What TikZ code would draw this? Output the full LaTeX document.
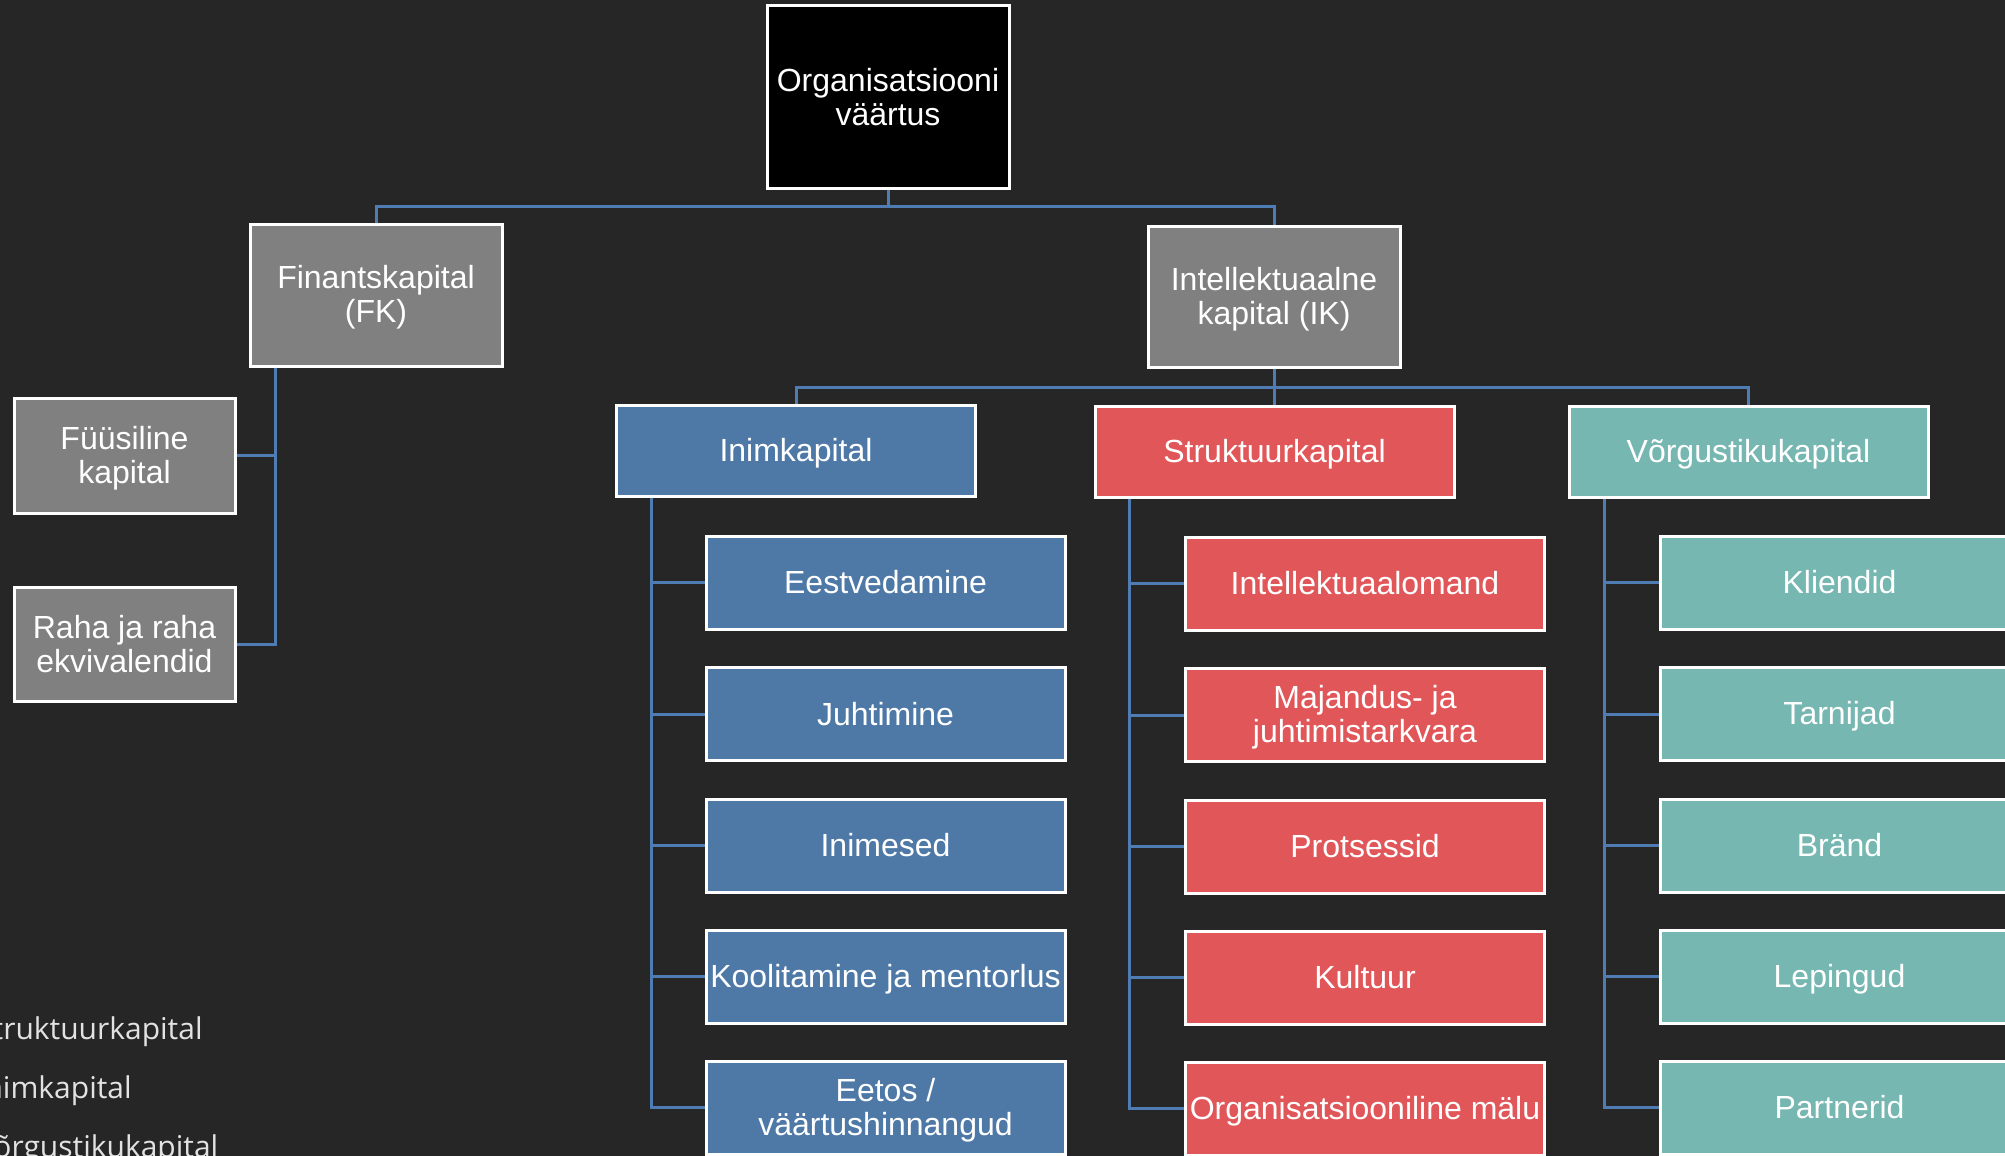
\documentclass[tikz,border=0pt]{standalone}
\usepackage{fontspec}
\setmainfont{Liberation Sans}
\newfontfamily\legendfont{Open Sans}
\definecolor{bgc}{HTML}{262626}
\definecolor{grayc}{HTML}{808080}
\definecolor{bluec}{HTML}{4E79A7}
\definecolor{redc}{HTML}{E15759}
\definecolor{tealc}{HTML}{76B7B2}
\definecolor{linec}{HTML}{4F7DB3}
\definecolor{legc}{HTML}{E2E2E2}
\newcommand\bxfont{\fontsize{32}{34}\selectfont\lineskiplimit=-100pt}
\newcommand\bs{\rule[-6pt]{0pt}{34pt}}
\tikzset{
  box/.style={draw=white, line width=3pt, text=white, inner sep=0pt, align=center, font=\bxfont},
  rootbox/.style={box, fill=black, minimum width=242, minimum height=182},
  graybox/.style={box, fill=grayc},
  lvl2/.style={box, minimum width=359, minimum height=91},
  child/.style={box, minimum width=359, minimum height=93},
  conn/.style={draw=linec, line width=3pt},
  legend/.style={text=legc, font=\legendfont\fontsize{30}{34}\selectfont, anchor=base west, inner sep=0pt}
}
\begin{document}
\begin{tikzpicture}[x=1pt,y=-1pt]
\useasboundingbox (0,0) rectangle (2005,1156);
\fill[bgc] (0,0) rectangle (2005,1156);
\clip (0,0) rectangle (2005,1156);

% top levels
\node[rootbox] (root) at (888,97) {\bs Organisatsiooni\\\bs väärtus};
\node[graybox, minimum width=252, minimum height=142] (fk) at (376,295) {\bs Finantskapital\\\bs (FK)};
\node[graybox, minimum width=252, minimum height=141] (ik) at (1274,296.5) {\bs Intellektuaalne\\\bs kapital (IK)};
\node[graybox, minimum width=221, minimum height=115] (fys) at (124.5,455.5) {\bs Füüsiline\\\bs kapital};
\node[graybox, minimum width=221, minimum height=114] (raha) at (124.5,644) {\bs Raha ja raha\\\bs ekvivalendid};

\node[lvl2, fill=bluec] (inim) at (796,451) {\bs Inimkapital};
\node[lvl2, fill=redc] (strk) at (1274.5,452) {\bs Struktuurkapital};
\node[lvl2, fill=tealc] (vorg) at (1748.5,452) {\bs Võrgustikukapital};

% Inimkapital children
\node[child, fill=bluec] (i1) at (885.5,582.5) {\bs Eestvedamine};
\node[child, fill=bluec] (i2) at (885.5,714) {\bs Juhtimine};
\node[child, fill=bluec] (i3) at (885.5,845.5) {\bs Inimesed};
\node[child, fill=bluec] (i4) at (885.5,976.5) {\bs Koolitamine ja mentorlus};
\node[child, fill=bluec] (i5) at (885.5,1107.5) {\bs Eetos /\\\bs väärtushinnangud};

% Struktuurkapital children
\node[child, fill=redc] (s1) at (1365,583.5) {\bs Intellektuaalomand};
\node[child, fill=redc] (s2) at (1365,715) {\bs Majandus- ja\\\bs juhtimistarkvara};
\node[child, fill=redc] (s3) at (1365,846.5) {\bs Protsessid};
\node[child, fill=redc] (s4) at (1365,977.5) {\bs Kultuur};
\node[child, fill=redc] (s5) at (1365,1108.5) {\bs Organisatsiooniline mälu};

% Vorgustikukapital children
\node[child, fill=tealc] (v1) at (1839.5,582.5) {\bs Kliendid};
\node[child, fill=tealc] (v2) at (1839.5,714) {\bs Tarnijad};
\node[child, fill=tealc] (v3) at (1839.5,845.5) {\bs Bränd};
\node[child, fill=tealc] (v4) at (1839.5,976.5) {\bs Lepingud};
\node[child, fill=tealc] (v5) at (1839.5,1107.5) {\bs Partnerid};

% connectors
\draw[conn] (root.south) -- ++(0,17) -| (fk.north);
\draw[conn] (root.south) -- ++(0,17) -| (ik.north);
\draw[conn] (fk.south) ++(-101,0) |- (fys.east);
\draw[conn] (fk.south) ++(-101,0) |- (raha.east);
\draw[conn] (ik.south) -- ++(0,19) -| (inim.north);
\draw[conn] (ik.south) -- ++(0,19) -| (strk.north);
\draw[conn] (ik.south) -- ++(0,19) -| (vorg.north);
\foreach \c in {i1,i2,i3,i4,i5}{\draw[conn] (inim.south west) ++(36,0) |- (\c.west);}
\foreach \c in {s1,s2,s3,s4,s5}{\draw[conn] (strk.south west) ++(36,0) |- (\c.west);}
\foreach \c in {v1,v2,v3,v4,v5}{\draw[conn] (vorg.south west) ++(37,0) |- (\c.west);}

% clipped legend text at left (cut by the page edge, as in the reference)
\node[legend] (l1) at (-24,1039.5) {Struktuurkapital};
\node[legend] (l2) at (-24,1098) {Inimkapital};
\node[legend] (l3) at (-24,1157) {Võrgustikukapital};
\end{tikzpicture}
\end{document}
